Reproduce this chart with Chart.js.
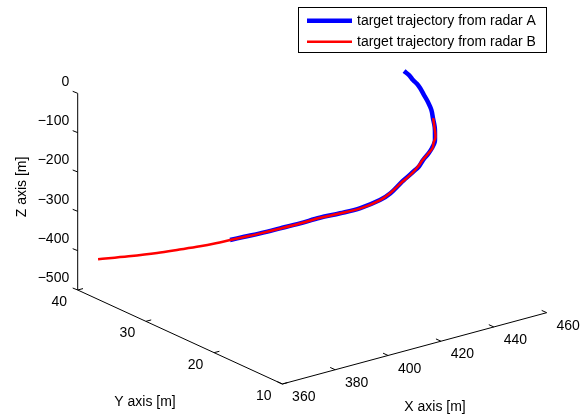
<!DOCTYPE html>
<html>
<head>
<meta charset="utf-8">
<title>target trajectory</title>
<script src="https://cdn.jsdelivr.net/npm/chart.js@4.4.1/dist/chart.umd.min.js"></script>
<style>
    html, body { margin: 0; padding: 0; background: #fff; }
    #wrap { position: relative; width: 580px; height: 416px; }
</style>
</head>
<body>
<div id="wrap"><canvas id="trajChart"></canvas></div>
<script>
// Graduations des trois axes
const xTicks = [360, 380, 400, 420, 440, 460];
const yTicks = [10, 20, 30, 40];
const zTicks = [0, -100, -200, -300, -400, -500];
const axisTitles = ['X axis [m]', 'Y axis [m]', 'Z axis [m]'];
const seriesNames = ['target trajectory from radar A', 'target trajectory from radar B'];

// Trajectoire mesurée par le radar A (x, y, z en mètres)
const radarAX = [449.9, 450.6, 450.7, 450.9, 450.8, 451.0, 451.2, 451.2, 450.5, 449.9, 448.7, 447.3, 445.0, 443.1, 440.3,
                 437.9, 435.2, 432.6, 431.1, 428.0, 425.3, 420.5, 415.4, 410.8, 406.7, 403.0, 399.3, 396.7, 394.4];
const radarAY = [27, 26.5, 26, 25.5, 25, 24.5, 24, 23.5, 23, 22.5, 22, 21.5, 21, 20.8, 20.5,
                 20.2, 20, 20, 20, 20.5, 21, 22, 23, 24.2, 25.5, 27, 28.5, 29.8, 31];
const radarAZ = [-2.8, -11, -19.1, -25, -31.5, -46, -60, -76, -91.3, -110, -128.4, -135, -141.8, -151, -159.9,
                 -170, -177, -188, -194.1, -222, -238.4, -258, -270, -282.5, -299.7, -317.8, -335.6, -350, -363.5];

// Trajectoire mesurée par le radar B
const radarBX = [450.6, 449.8, 448.9, 446.9, 445.2, 442.9, 440.1, 437.6, 435.3, 432.8, 431.2, 427.6, 425.2, 420.8,
                 415.2, 411.0, 406.6, 402.8, 399.5, 396.6, 394.5, 392.1, 389.5, 385.6, 381.0, 374.6, 367.7];
const radarBY = [23, 22.5, 22, 21.5, 21, 20.8, 20.5, 20.2, 20, 20, 20, 20.5, 21, 22,
                 23, 24.2, 25.5, 27, 28.5, 29.8, 31, 32.2, 33.5, 35, 36.5, 38.2, 40];
const radarBZ = [-91.8, -109.5, -128.8, -135.5, -142.2, -151.5, -160.3, -169.5, -177.4, -188.5, -194.5, -222.5, -238.8, -258.6,
                 -270.4, -283, -300.1, -318.3, -336, -350.5, -363.9, -377.3, -390.6, -403.8, -416, -426.3, -435.6];

// Limites de la boîte 3D
const xMin = 360, xMax = 460, yMin = 10, yMax = 40, zMin = -500, zMax = 0;

// Projection orthographique : coin (xMin, yMax, zMin) puis une arête par axe
const ORIGIN = { u: 77.7, v: 290 };
const EDGE_X = { u: 264.4, v: -71.3 };
const EDGE_Y = { u: 204.6, v: 94 };
const EDGE_Z = { u: 0, v: -196.7 };

function project(x, y, z) {
    const fx = (x - xMin) / (xMax - xMin);
    const fy = (yMax - y) / (yMax - yMin);
    const fz = (z - zMin) / (zMax - zMin);
    return {
        x: ORIGIN.u + fx * EDGE_X.u + fy * EDGE_Y.u + fz * EDGE_Z.u,
        y: ORIGIN.v + fx * EDGE_X.v + fy * EDGE_Y.v + fz * EDGE_Z.v
    };
}

function toPoints(xs, ys, zs) {
    return xs.map((x, i) => project(x, ys[i], zs[i]));
}

const FONT = '14px "Liberation Sans", Arial, Helvetica, sans-serif';

// Dessin des axes, graduations et titres dans le repère projeté
const axesPlugin = {
    id: 'axes3d',
    beforeDatasetsDraw(chart) {
        const ctx = chart.ctx;
        const sx = chart.scales.x, sy = chart.scales.y;
        const px = p => ({ x: sx.getPixelForValue(p.x), y: sy.getPixelForValue(p.y) });
        const line = (a, b) => {
            ctx.beginPath();
            ctx.moveTo(a.x, a.y);
            ctx.lineTo(b.x, b.y);
            ctx.stroke();
        };

        ctx.save();
        ctx.strokeStyle = '#000';
        ctx.lineWidth = 1;
        ctx.fillStyle = '#000';
        ctx.font = FONT;

        // Axe X (à y = yMin)
        line(px(project(xMin, yMin, zMin)), px(project(xMax, yMin, zMin)));
        // Axe Y (à x = xMin)
        line(px(project(xMin, yMax, zMin)), px(project(xMin, yMin, zMin)));
        // Axe Z (à x = xMin, y = yMax)
        line(px(project(xMin, yMax, zMin)), px(project(xMin, yMax, zMax)));

        ctx.textAlign = 'center';
        ctx.textBaseline = 'middle';
        xTicks.forEach(t => {
            const p = px(project(t, yMin, zMin));
            line(p, { x: p.x - 5, y: p.y - 2.3 });
            ctx.fillText(String(t), p.x + 21.5, p.y + 13.3);
        });
        yTicks.forEach(t => {
            const p = px(project(xMin, t, zMin));
            line(p, { x: p.x + 5.3, y: p.y - 1.4 });
            ctx.fillText(String(t), p.x - 18.5, p.y + 12);
        });
        ctx.textAlign = 'right';
        zTicks.forEach(t => {
            const p = px(project(xMin, yMax, t));
            line(p, { x: p.x - 5, y: p.y - 2 });
            ctx.fillText(String(t).replace('-', '\u2212'), p.x - 8.5, p.y - 11.6);
        });

        // Titres des axes
        ctx.textAlign = 'center';
        const xMid = px(project((xMin + xMax) / 2, yMin, zMin));
        ctx.fillText(axisTitles[0], xMid.x + 20.5, xMid.y + 58.4);
        const yMid = px(project(xMin, (yMin + yMax) / 2, zMin));
        ctx.fillText(axisTitles[1], yMid.x - 35, yMid.y + 64.7);
        const zMid = px(project(xMin, yMax, (zMin + zMax) / 2));
        ctx.translate(zMid.x - 56, zMid.y - 4.7);
        ctx.rotate(-Math.PI / 2);
        ctx.fillText(axisTitles[2], 0, 0);
        ctx.restore();
    },
    afterDraw(chart) {
        // Légende encadrée en haut à droite
        const ctx = chart.ctx;
        ctx.save();
        ctx.fillStyle = '#fff';
        ctx.fillRect(298.5, 7.5, 248, 45);
        ctx.strokeStyle = '#000';
        ctx.lineWidth = 1;
        ctx.strokeRect(298.5, 7.5, 248, 45);
        ctx.font = FONT;
        ctx.textAlign = 'left';
        ctx.textBaseline = 'middle';
        chart.data.datasets.forEach((ds, i) => {
            const y = 20.7 + i * 21;
            ctx.strokeStyle = ds.borderColor;
            ctx.lineWidth = ds.borderWidth;
            ctx.beginPath();
            ctx.moveTo(307, y);
            ctx.lineTo(352, y);
            ctx.stroke();
            ctx.fillStyle = '#000';
            ctx.fillText(ds.label, 357, y + 0.5);
        });
        ctx.restore();
    }
};

const ctx = document.getElementById('trajChart').getContext('2d');
const trajChart = new Chart(ctx, {
    type: 'scatter',
    data: {
        datasets: [
            {
                label: seriesNames[0],
                data: toPoints(radarAX, radarAY, radarAZ),
                showLine: true,
                borderColor: '#0000ff',
                borderWidth: 4.5,
                pointRadius: 0,
                tension: 0.35,
                order: 2 // sous la trace du radar B
            },
            {
                label: seriesNames[1],
                data: toPoints(radarBX, radarBY, radarBZ),
                showLine: true,
                borderColor: '#ff0000',
                borderWidth: 2.5,
                pointRadius: 0,
                tension: 0.35,
                order: 1
            }
        ]
    },
    options: {
        responsive: true,
        maintainAspectRatio: false,
        animation: false,
        devicePixelRatio: 1,
        layout: { padding: 0 },
        plugins: {
            legend: { display: false },
            tooltip: { enabled: false }
        },
        scales: {
            x: { type: 'linear', min: 0, max: 580, display: false },
            y: { type: 'linear', min: 0, max: 416, reverse: true, display: false }
        }
    },
    plugins: [axesPlugin]
});
</script>
</body>
</html>
